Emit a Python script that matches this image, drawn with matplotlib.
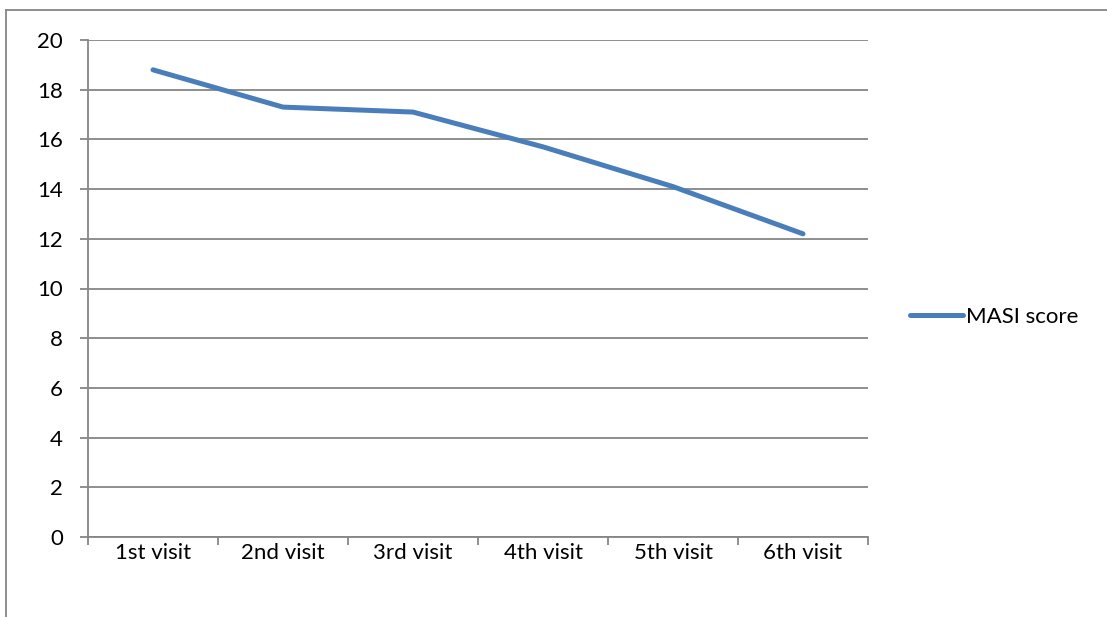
import numpy as np
import matplotlib.pyplot as plt
from matplotlib.lines import Line2D

visits = ['1st visit', '2nd visit', '3rd visit', '4th visit', '5th visit', '6th visit']
masi_score = [18.8, 17.3, 17.1, 15.7, 14.1, 12.2]

plt.rcParams['font.family'] = ['Lato', 'DejaVu Sans']
grid_color = '#868686'
line_color = '#4A7EBB'

fig = plt.figure(figsize=(11.07, 6.17), dpi=100)
W, H = 1107, 617
ax = fig.add_axes([88 / W, 1 - 537 / H, 780 / W, 497 / H])

x = np.arange(len(visits)) + 0.5
ax.plot(x, masi_score, color=line_color, linewidth=3.6, solid_capstyle='round',
        solid_joinstyle='round', zorder=3)

ax.set_xlim(0, len(visits))
ax.set_ylim(0, 20)
ax.set_yticks(range(0, 21, 2))
ax.set_xticks(range(0, len(visits) + 1))
ax.set_xticklabels([])
ax.set_xticks(x, minor=True)
ax.set_xticklabels(visits, minor=True)
ax.tick_params(axis='x', which='minor', length=0, pad=4, labelsize=16)
ax.tick_params(axis='x', which='major', length=6, width=1.3, color=grid_color, direction='out')
ax.tick_params(axis='y', length=6, width=1.3, color=grid_color, direction='out', pad=12, labelsize=16)
ax.grid(axis='y', color=grid_color, linewidth=1.3)
ax.set_axisbelow(True)
for side in ['top', 'right']:
    ax.spines[side].set_visible(False)
for side in ['left', 'bottom']:
    ax.spines[side].set_color(grid_color)
    ax.spines[side].set_linewidth(1.3)

# legend on the right
handle = Line2D([], [], color=line_color, linewidth=3.6, solid_capstyle='round')
fig.legend([handle], ['MASI score'], loc='center left', bbox_to_anchor=(890 / W, 1 - 317 / H),
           frameon=False, fontsize=16, handlelength=2.4, handletextpad=0.1)

# outer chart frame
fig.add_artist(Line2D([6 / W, 1], [1 - 10 / H, 1 - 10 / H], color=grid_color, linewidth=1.3))
fig.add_artist(Line2D([6 / W, 6 / W], [0, 1 - 10 / H], color=grid_color, linewidth=1.3))

fig.savefig('out.png', dpi=100)
